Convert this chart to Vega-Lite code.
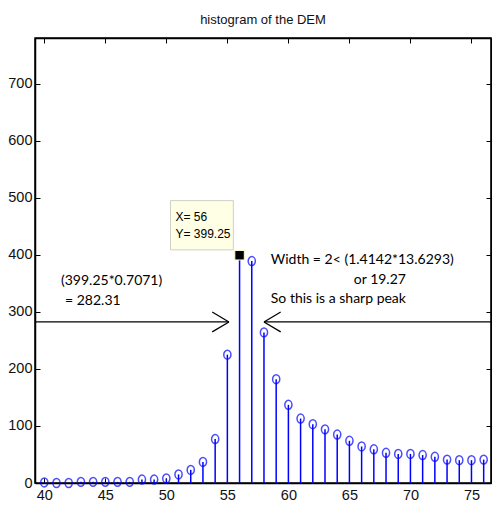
{
  "$schema": "https://vega.github.io/schema/vega-lite/v6.json",
  "width": 456,
  "height": 445,
  "autosize": {"type": "none"},
  "padding": {"left": 35, "top": 38, "right": 1, "bottom": 23},
  "background": "white",
  "config": {
    "view": {"stroke": "black", "strokeWidth": 1.5},
    "axis": {
      "domainColor": "black", "domainWidth": 1.5, "tickColor": "black", "tickWidth": 1,
      "labelFont": "Liberation Sans", "labelFontSize": 14.5, "labelColor": "#111",
      "grid": false, "title": null
    }
  },
  "title": {"text": "histogram of the DEM", "font": "Liberation Sans", "fontSize": 13, "fontWeight": "normal", "color": "#111", "offset": 11},
  "datasets": {
    "hist": [
      {"x": 40, "n": 1}, {"x": 41, "n": 0}, {"x": 42, "n": 0}, {"x": 43, "n": 2}, {"x": 44, "n": 2},
      {"x": 45, "n": 2}, {"x": 46, "n": 2}, {"x": 47, "n": 2}, {"x": 48, "n": 6}, {"x": 49, "n": 6},
      {"x": 50, "n": 8}, {"x": 51, "n": 15}, {"x": 52, "n": 23}, {"x": 53, "n": 37}, {"x": 54, "n": 77},
      {"x": 55, "n": 225}, {"x": 56, "n": 399.25}, {"x": 57, "n": 389}, {"x": 58, "n": 264}, {"x": 59, "n": 182},
      {"x": 60, "n": 137}, {"x": 61, "n": 113}, {"x": 62, "n": 103}, {"x": 63, "n": 94}, {"x": 64, "n": 85},
      {"x": 65, "n": 74}, {"x": 66, "n": 64}, {"x": 67, "n": 59}, {"x": 68, "n": 53}, {"x": 69, "n": 51},
      {"x": 70, "n": 51}, {"x": 71, "n": 49}, {"x": 72, "n": 46}, {"x": 73, "n": 41}, {"x": 74, "n": 40},
      {"x": 75, "n": 40}, {"x": 76, "n": 41}
    ],
    "arrows": [
      {"x": 39.24, "x2": 55.13, "y": 282.31, "y2": 282.31},
      {"x": 53.76, "x2": 55.13, "y": 299.8, "y2": 282.31},
      {"x": 53.76, "x2": 55.13, "y": 264.8, "y2": 282.31},
      {"x": 58.0, "x2": 76.6, "y": 282.31, "y2": 282.31},
      {"x": 59.37, "x2": 58.0, "y": 299.8, "y2": 282.31},
      {"x": 59.37, "x2": 58.0, "y": 264.8, "y2": 282.31}
    ],
    "notes": [
      {"x": 41.37, "y": 353.8, "t": "(399.25*0.7071)"},
      {"x": 41.7, "y": 318.2, "t": "= 282.31"},
      {"x": 58.56, "y": 391.2, "t": "Width = 2< (1.4142*13.6293)"},
      {"x": 65.36, "y": 356.2, "t": "or 19.27"},
      {"x": 58.56, "y": 323.0, "t": "So this is a sharp peak"}
    ],
    "tipbox": [{"x": 50.34, "x2": 55.49, "y": 495, "y2": 408.7}],
    "tiptext": [
      {"x": 50.75, "y": 465.8, "t": "X= 56"},
      {"x": 50.75, "y": 436.8, "t": "Y= 399.25"}
    ],
    "cursor": [{"x": 56, "n": 399.25}]
  },
  "resolve": {"axis": {"x": "independent", "y": "independent"}},
  "layer": [
    {
      "data": {"name": "hist"},
      "mark": {"type": "rule", "color": "#0000ff", "strokeWidth": 1.5},
      "encoding": {
        "x": {"field": "x", "type": "quantitative",
              "scale": {"domain": [39.24, 76.6], "nice": false, "zero": false},
              "axis": {"values": [40, 45, 50, 55, 60, 65, 70, 75], "tickSize": -5, "labelPadding": 10, "orient": "bottom"}},
        "y": {"field": "n", "type": "quantitative",
              "scale": {"domain": [0, 780], "nice": false},
              "axis": {"values": [0, 100, 200, 300, 400, 500, 600, 700], "tickSize": -5, "labelPadding": 8, "orient": "left"}},
        "y2": {"datum": 0}
      }
    },
    {
      "data": {"name": "hist"},
      "mark": {"type": "point", "shape": "M-0.8,0A0.8,1 0 1,1 0.8,0A0.8,1 0 1,1 -0.8,0Z", "filled": false, "color": "#0000ff", "size": 80, "strokeWidth": 1.5},
      "encoding": {
        "x": {"field": "x", "type": "quantitative", "axis": {"orient": "top", "values": [40, 45, 50, 55, 60, 65, 70, 75], "tickSize": -5, "labels": false, "domain": true}},
        "y": {"field": "n", "type": "quantitative", "axis": {"orient": "right", "values": [0, 100, 200, 300, 400, 500, 600, 700], "tickSize": -5, "labels": false, "domain": true}}
      }
    },
    {
      "data": {"name": "cursor"},
      "mark": {"type": "point", "shape": "square", "filled": true, "color": "black", "stroke": "#ffffcc", "strokeWidth": 1, "size": 90, "opacity": 1},
      "encoding": {
        "x": {"field": "x", "type": "quantitative", "axis": null},
        "y": {"field": "n", "type": "quantitative", "axis": null}
      }
    },
    {
      "data": {"name": "tipbox"},
      "mark": {"type": "rect", "fill": "#ffffe6", "stroke": "#d0d0c8", "strokeWidth": 1},
      "encoding": {
        "x": {"field": "x", "type": "quantitative", "axis": null},
        "x2": {"field": "x2"},
        "y": {"field": "y", "type": "quantitative", "axis": null},
        "y2": {"field": "y2"}
      }
    },
    {
      "data": {"name": "tiptext"},
      "mark": {"type": "text", "align": "left", "baseline": "middle", "font": "Liberation Sans", "fontSize": 12, "color": "black"},
      "encoding": {
        "x": {"field": "x", "type": "quantitative", "axis": null},
        "y": {"field": "y", "type": "quantitative", "axis": null},
        "text": {"field": "t"}
      }
    },
    {
      "data": {"name": "arrows"},
      "mark": {"type": "rule", "color": "black", "strokeWidth": 1.3},
      "encoding": {
        "x": {"field": "x", "type": "quantitative", "axis": null},
        "x2": {"field": "x2"},
        "y": {"field": "y", "type": "quantitative", "axis": null},
        "y2": {"field": "y2"}
      }
    },
    {
      "data": {"name": "notes"},
      "mark": {"type": "text", "align": "left", "baseline": "middle", "font": "Lato", "fontSize": 14, "color": "black"},
      "encoding": {
        "x": {"field": "x", "type": "quantitative", "axis": null},
        "y": {"field": "y", "type": "quantitative", "axis": null},
        "text": {"field": "t"}
      }
    }
  ]
}
